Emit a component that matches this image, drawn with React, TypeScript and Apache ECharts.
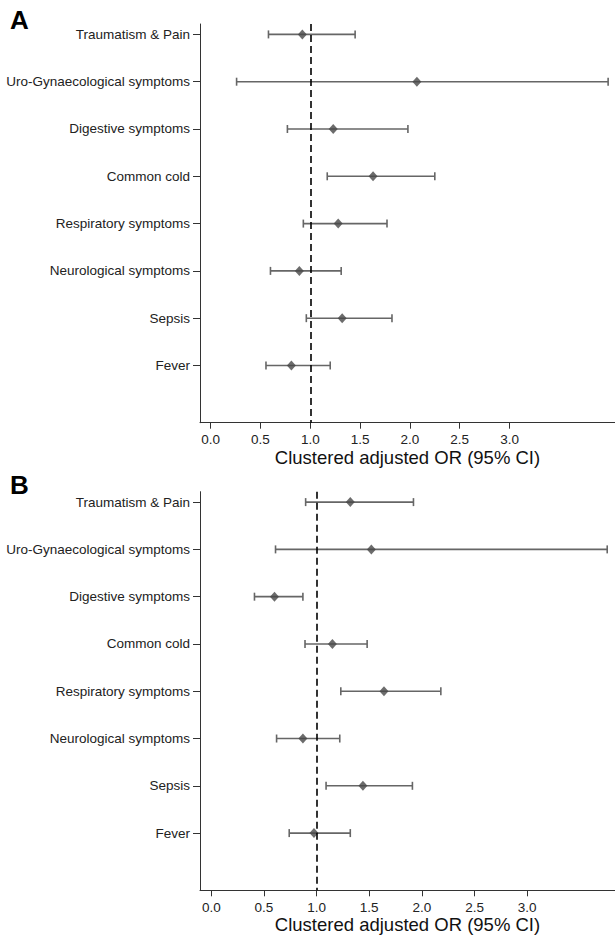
import React, { useEffect, useRef } from "react";
import * as echarts from "echarts";

const categories = [
  "Traumatism & Pain",
  "Uro-Gynaecological symptoms",
  "Digestive symptoms",
  "Common cold",
  "Respiratory symptoms",
  "Neurological symptoms",
  "Sepsis",
  "Fever",
];

const orA = [0.92, 2.07, 1.23, 1.63, 1.28, 0.89, 1.32, 0.81];
const loA = [0.58, 0.26, 0.77, 1.17, 0.93, 0.6, 0.96, 0.555];
const hiA = [1.45, 3.99, 1.98, 2.25, 1.77, 1.31, 1.82, 1.2];

const orB = [1.32, 1.52, 0.6, 1.15, 1.64, 0.87, 1.44, 0.975];
const loB = [0.896, 0.61, 0.41, 0.89, 1.23, 0.62, 1.09, 0.74];
const hiB = [1.92, 3.76, 0.87, 1.48, 2.18, 1.22, 1.91, 1.32];

const xTicks = [0, 0.5, 1, 1.5, 2, 2.5, 3];
const rowIdx = categories.map((_, i) => i);
const refValue = 1;
const axisTitle = "Clustered adjusted OR (95% CI)";
const panelLabels = ["A", "B"];

const FONT = "'Liberation Sans', Arial, sans-serif";
const BAR = "#666666";
const DOT = "#474747";

function makeX(idx: number, min: number, max: number) {
  return {
    type: "value",
    gridIndex: idx,
    min,
    max,
    axisLine: { show: true, onZero: false, lineStyle: { color: "#333", width: 1 } },
    axisTick: { show: true, customValues: xTicks, length: 6, lineStyle: { color: "#333" } },
    axisLabel: {
      customValues: xTicks,
      formatter: (v: number) => v.toFixed(1),
      color: "#222",
      fontSize: 13.5,
      fontFamily: FONT,
      margin: 10,
    },
    splitLine: { show: false },
    name: axisTitle,
    nameLocation: "middle",
    nameGap: 24,
    nameTextStyle: { fontSize: 18.5, color: "#111", fontFamily: FONT },
  };
}

function makeY(idx: number) {
  return {
    type: "value",
    gridIndex: idx,
    inverse: true,
    min: -0.22,
    max: 8.21,
    axisLine: { show: true, onZero: false, lineStyle: { color: "#333", width: 1 } },
    axisTick: { show: true, customValues: rowIdx, length: 7, lineStyle: { color: "#333" } },
    axisLabel: {
      customValues: rowIdx,
      formatter: (v: number) => categories[Math.round(v)] ?? "",
      color: "#222",
      fontSize: 13.5,
      fontFamily: FONT,
      margin: 10,
    },
    splitLine: { show: false },
  };
}

function barSeries(idx: number, lo: number[], hi: number[]) {
  return {
    type: "custom",
    xAxisIndex: idx,
    yAxisIndex: idx,
    data: categories.map((_, i) => [lo[i], hi[i], i]),
    renderItem: (params: any, api: any) => {
      const y = api.value(2);
      const p1 = api.coord([api.value(0), y]);
      const p2 = api.coord([api.value(1), y]);
      const h = 4;
      const style = { stroke: BAR, lineWidth: 1.6 };
      return {
        type: "group",
        children: [
          { type: "line", shape: { x1: p1[0], y1: p1[1], x2: p2[0], y2: p2[1] }, style },
          { type: "line", shape: { x1: p1[0], y1: p1[1] - h, x2: p1[0], y2: p1[1] + h }, style },
          { type: "line", shape: { x1: p2[0], y1: p2[1] - h, x2: p2[0], y2: p2[1] + h }, style },
        ],
      };
    },
    z: 3,
  };
}

function dotSeries(idx: number, or: number[]) {
  return {
    type: "scatter",
    xAxisIndex: idx,
    yAxisIndex: idx,
    symbol: "diamond",
    symbolSize: [9, 10],
    itemStyle: { color: DOT },
    data: categories.map((_, i) => [or[i], i]),
    z: 4,
    markLine: {
      silent: true,
      symbol: ["none", "none"],
      label: { show: false },
      lineStyle: { color: "#000", type: [7, 4], width: 1.6 },
      data: [{ xAxis: refValue }],
      z: 5,
    },
  };
}

export default function App() {
  const ref = useRef<HTMLDivElement>(null);
  useEffect(() => {
    if (!ref.current) return;
    const chart = echarts.init(ref.current, undefined, { renderer: "svg" });
    chart.setOption({
      animation: false,
      backgroundColor: "#fff",
      textStyle: { fontFamily: FONT },
      grid: [
        { left: 200, right: 0, top: 24, height: 398.7 },
        { left: 200, right: 0, top: 491.7, height: 398.6 },
      ],
      xAxis: [makeX(0, -0.1074, 4.059), makeX(1, -0.1073, 3.834)],
      yAxis: [makeY(0), makeY(1)],
      graphic: [
        {
          type: "text",
          left: 10,
          top: 7,
          style: { text: panelLabels[0], fontSize: 26, fontWeight: "bold", fill: "#000", fontFamily: FONT },
        },
        {
          type: "text",
          left: 10,
          top: 472,
          style: { text: panelLabels[1], fontSize: 26, fontWeight: "bold", fill: "#000", fontFamily: FONT },
        },
      ],
      series: [barSeries(0, loA, hiA), dotSeries(0, orA), barSeries(1, loB, hiB), dotSeries(1, orB)],
    });
    return () => chart.dispose();
  }, []);
  return (
    <div
      ref={ref}
      style={{ position: "absolute", left: 0, top: 0, width: 615, height: 937 }}
    />
  );
}
